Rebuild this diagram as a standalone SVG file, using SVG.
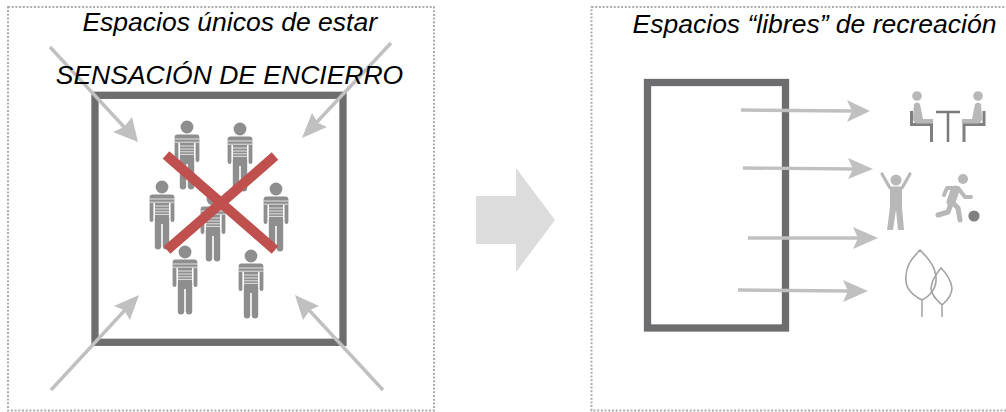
<svg xmlns="http://www.w3.org/2000/svg" width="1006" height="412" viewBox="0 0 1006 412">
<style>
.frame{fill:none;stroke:#adadad;stroke-width:2;stroke-dasharray:2 1.700}
.t{font-family:"Liberation Sans",Arial,sans-serif;font-style:italic;font-size:26.500px;fill:#000;text-anchor:middle}
.room{fill:none;stroke:#6d6d70;stroke-width:7.300}
.ar{stroke:#c0c0c0;stroke-width:3.400;fill:none}
.ah{fill:#c0c0c0}
.g{fill:#b8b8b8}
.l{fill:none;stroke:#b8b8b8;stroke-linecap:round;stroke-linejoin:round}
.x{stroke:#c0504d;stroke-width:10}
</style>
<defs>
<g id="person">
<circle cx="0" cy="0" r="6.400" fill="#8e8e8e"/>
<path d="M-9.500 7.600H9.500Q12.400 7.600 12.400 10.500V33Q12.400 35 10.500 35Q8.600 35 8.600 33V16H7V30.500H7.200V59.500Q7.200 62.500 4 62.500Q1 62.500 .8 59.500V37H-.8V59.500Q-1 62.500-4 62.500Q-7.200 62.500-7.200 59.500V30.500H-7V16H-8.600V33Q-8.600 35-10.500 35Q-12.400 35-12.400 33V10.500Q-12.400 7.600-9.500 7.600Z" fill="#8e8e8e"/>
<path d="M-12.400 12H12.400M-12.400 15.200H12.400M-7 19H7M-7 22H7M-7 24.800H7M-7 27.400H7" stroke="#fff" stroke-width="1" opacity=".75"/>
</g>
</defs>
<rect class="frame" x="8" y="7" width="426" height="403.500"/>
<rect class="frame" x="591.500" y="7" width="420" height="403.500"/>
<g id="room-left"><rect class="room" x="95" y="95.300" width="248" height="247"/></g>
<g id="room-right"><rect class="room" x="647.500" y="82.500" width="138" height="245.500"/></g>
<g id="people">
<use href="#person" x="187" y="127"/>
<use href="#person" x="240" y="129"/>
<use href="#person" x="162" y="187"/>
<use href="#person" x="276" y="189"/>
<use href="#person" x="213" y="199"/>
<use href="#person" x="185" y="252"/>
<use href="#person" x="251" y="256"/>
</g>
<g id="cross"><path class="x" d="M166 155L275 250M275 156L167 250"/></g>
<g id="connectors">
<path class="ar" d="M50 47L125 128"/><path class="ah" d="M138 142L113 132L124 127L132 117Z"/>
<path class="ar" d="M391 43L317 122"/><path class="ah" d="M302 138L312 113L318 123L327 127Z"/>
<path class="ar" d="M51 390L125 310"/><path class="ah" d="M139 295L130 320L124 310L114 306Z"/>
<path class="ar" d="M383 390L309 310"/><path class="ah" d="M295 295L319 306L310 310L303 320Z"/>
<path class="ar" d="M741 110L853 111"/><path class="ah" d="M870 111L847 100L852 111L847 122Z"/>
<path class="ar" d="M743 168L855 169"/><path class="ah" d="M873 169L848 158L853 169L848 179Z"/>
<path class="ar" d="M748 238L859 238"/><path class="ah" d="M878 238L853 227L858 238L853 249Z"/>
<path class="ar" d="M738 290L849 291"/><path class="ah" d="M868 291L843 280L848 291L843 302Z"/>
</g>
<g id="title-left"><text class="t" x="229.700" y="30.500">Espacios únicos de estar</text></g>
<g id="label-encierro"><text class="t" x="229.500" y="83.500">SENSACIÓN DE ENCIERRO</text></g>
<g id="title-right"><text class="t" x="814.500" y="33">Espacios “libres” de recreación</text></g>
<g id="icon-table">
<path d="M911.500 111V124.500H931.500V142M984 111V124.500H964V142" fill="none" stroke="#7f7f7f" stroke-width="3"/>
<path d="M936 112H960M948 112V142" fill="none" stroke="#7a7a7a" stroke-width="2.500"/>
<circle class="g" cx="917" cy="96" r="4.800"/><circle class="g" cx="978" cy="96" r="4.800"/>
<path class="g" d="M914 104Q917 101 920 104L923 119H933V123.500H917Q913 123 913 118Z"/>
<path class="g" d="M981 104Q978 101 975 104L972 119H962V123.500H978Q982 123 982 118Z"/>
</g>
<g id="icon-cheer">
<circle class="g" cx="896" cy="180" r="5.500"/>
<path class="l" stroke-width="3.200" d="M882 174L890 188H902L910 174"/>
<path class="g" d="M890 187H902V207L904 230H898L896 210L893 230H887L890 207Z"/>
</g>
<g id="icon-soccer">
<circle class="g" cx="963" cy="179" r="5"/>
<path class="l" stroke-width="4" d="M944 195L947 188H958L965 197H971"/>
<path class="l" stroke-width="9" d="M955 190L951 202"/>
<path class="l" stroke-width="5" d="M951 204L948 212L938 215M954 204L958 208L960 220"/>
<circle cx="974" cy="216" r="5.600" fill="#808080"/>
</g>
<g id="icon-trees" fill="none" stroke="#a2a2a2" stroke-width="1.600">
<path d="M920 250C910 260 905 268 906 280C906 290 914 296 922 300C930 296 937 288 936 277C935 266 928 258 920 250Z"/>
<path d="M941 268C936 274 931 282 931 289C932 296 937 300 942 305C948 300 952 294 952 288C951 281 946 273 941 268Z"/>
<path d="M922 300V317M942 305V317" stroke="#b8b8b8" stroke-width="2"/>
</g>
<g id="big-arrow"><path d="M476 196H516V168L555 220L516 272V244H476Z" fill="#dcdcdc"/></g>
</svg>
